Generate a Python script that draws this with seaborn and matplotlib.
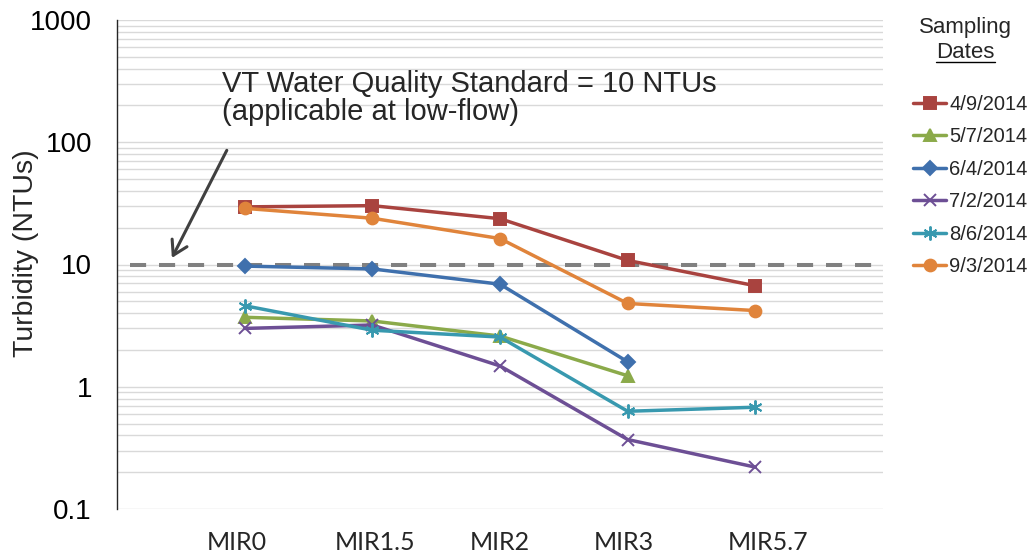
import matplotlib
matplotlib.use("Agg")
import matplotlib.pyplot as plt
import matplotlib.transforms as mtransforms
from matplotlib.lines import Line2D
from matplotlib.ticker import LogLocator, NullFormatter
import seaborn as sns
import numpy as np
import pandas as pd

# --- Data ---
sites = ["MIR0", "MIR1.5", "MIR2", "MIR3", "MIR5.7"]
dates = ["4/9/2014", "5/7/2014", "6/4/2014", "7/2/2014", "8/6/2014", "9/3/2014"]
turb_0409 = [29.6, 30.3, 23.7, 10.8, 6.7]
turb_0507 = [3.7, 3.45, 2.6, 1.23, np.nan]
turb_0604 = [9.7, 9.2, 6.9, 1.6, np.nan]
turb_0702 = [3.0, 3.2, 1.48, 0.37, 0.22]
turb_0806 = [4.6, 2.9, 2.55, 0.63, 0.68]
turb_0903 = [28.8, 23.9, 16.3, 4.8, 4.2]
standard = 10
y_ticks = [0.1, 1, 10, 100, 1000]
y_tick_labels = ["0.1", "1", "10", "100", "1000"]

series = [turb_0409, turb_0507, turb_0604, turb_0702, turb_0806, turb_0903]

colors = ["#A9433F", "#8BAA4A", "#3F70AD", "#6D4F95", "#3899AF", "#E0843B"]
markers = ["s", "^", "D", "x", (6, 2, 0), "o"]
msizes = [8, 8.5, 7, 8, 10, 8.5]

sns.set_style("white")
plt.rcParams["font.family"] = ["Liberation Sans", "DejaVu Sans"]

fig = plt.figure(figsize=(10.34, 5.58), dpi=100)
ax = fig.add_axes([117 / 1034, 1 - 509 / 558, 766 / 1034, 489 / 558])

# --- Lines ---
for date, vals, c, m, ms in zip(dates, series, colors, markers, msizes):
    df = pd.DataFrame({"site": sites, "ntu": vals}).dropna()
    sns.lineplot(data=df, x="site", y="ntu", color=c, marker=m, markersize=ms,
                 markeredgecolor=c, markerfacecolor=c, markeredgewidth=1.4,
                 linewidth=2.5, label=date, ax=ax, sort=False)

# standard line
ax.hlines(standard, -0.9, 5, colors="#808080", linewidth=2.9,
          linestyles=(0, (4, 3.2)), zorder=1.5)

ax.set_yscale("log")
ax.set_ylim(0.1, 1000)
ax.set_xlim(-1, 5)
ax.set_yticks(y_ticks, labels=y_tick_labels)
ax.yaxis.set_minor_locator(LogLocator(base=10, subs=np.arange(2, 10)))
ax.yaxis.set_minor_formatter(NullFormatter())
ax.grid(True, axis="y", which="both", color="#D9D9D9", linewidth=1.0)
ax.set_axisbelow(True)

for s in ["top", "right", "bottom"]:
    ax.spines[s].set_visible(False)
ax.spines["left"].set_color("#262626")
ax.spines["left"].set_linewidth(1.0)

ax.tick_params(axis="y", which="major", direction="out", length=5, width=1,
               color="#868686", pad=13, labelsize=20, labelcolor="black")
ax.tick_params(axis="y", which="minor", length=0)
ax.tick_params(axis="x", length=0, pad=16, labelsize=18)
for lab in ax.get_xticklabels():
    lab.set_family(["Lato", "DejaVu Sans"])

# small nudges of the category labels, as in the original
nudges = [-7.5, 3, 0, -4, 13]
for lab, dx in zip(ax.get_xticklabels(), nudges):
    lab.set_transform(lab.get_transform() +
                      mtransforms.ScaledTranslation(dx / 100, 0, fig.dpi_scale_trans))

ax.set_xlabel("")
ax.set_ylabel("Turbidity (NTUs)", fontsize=20.5)
ax.yaxis.set_label_coords(-0.102, 0.5235)

# annotation
fig.text(222 / 1034, 1 - 70 / 558,
         "VT Water Quality Standard = 10 NTUs\n(applicable at low-flow)",
         fontsize=21, ha="left", va="top", linespacing=1.0)
ax.annotate("", xy=(-0.58, standard * 1.08), xytext=(-0.13, 90),
            arrowprops=dict(arrowstyle="->,head_length=0.5,head_width=0.3",
                            color="#404040", lw=2.2, mutation_scale=20))

# legend
ax.legend(loc="upper left", bbox_to_anchor=(913 / 1034, 1 - 95 / 558),
          bbox_transform=fig.transFigure, frameon=False, fontsize=14.5,
          handlelength=1.65, handletextpad=0.15, labelspacing=0.67,
          borderpad=0, borderaxespad=0)
fig.text(965 / 1034, 1 - 28 / 558, "Sampling", ha="center", va="center", fontsize=16)
fig.text(965 / 1034, 1 - 52 / 558, "Dates", ha="center", va="center", fontsize=16)
fig.add_artist(Line2D([936 / 1034, 995 / 1034], [1 - 62 / 558, 1 - 62 / 558],
                      color="black", linewidth=1.0, transform=fig.transFigure))

fig.savefig("out.png", dpi=100)
